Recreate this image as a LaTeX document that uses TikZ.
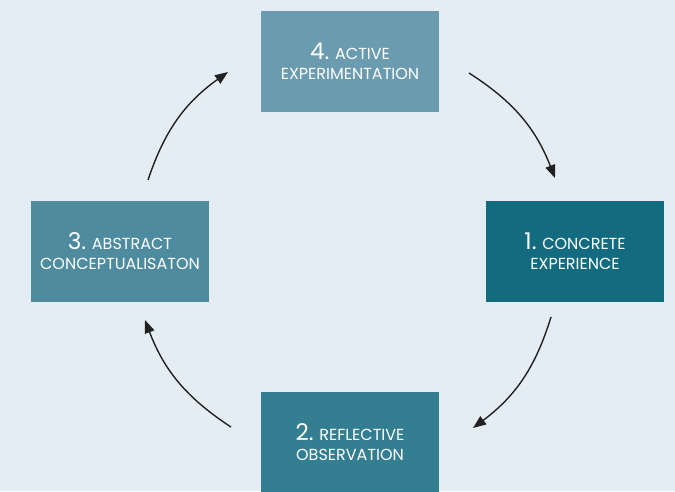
\documentclass[tikz,border=0pt]{standalone}
\usepackage{fontspec}
\setmainfont{Poppins}
\usetikzlibrary{arrows.meta}
\definecolor{bg}{HTML}{E4EDF3}
\definecolor{cA}{HTML}{136B80}
\definecolor{cB}{HTML}{347E92}
\definecolor{cC}{HTML}{4F8B9F}
\definecolor{cD}{HTML}{6A9BAE}
\definecolor{arr}{HTML}{222222}
\newcommand{\bignum}[1]{{\fontsize{23}{20}\selectfont #1}}
\tikzset{
  stagebox/.style={minimum width=178pt, minimum height=101pt, inner sep=0pt,
    text=white, align=center, font=\fontsize{16}{20}\selectfont},
  cyc/.style={draw=arr, line width=1.4pt, -{Triangle[length=13pt,width=10pt]}, bend left=18}
}
\begin{document}
\begin{tikzpicture}[x=1pt,y=-1pt]
\fill[bg] (0,0) rectangle (675,491);
\useasboundingbox (0,0) rectangle (675,491);
\node[stagebox, fill=cD] (ae) at (350,61.5) {\bignum{4.} ACTIVE\\EXPERIMENTATION};
\node[stagebox, fill=cA] (ce) at (575,251.5) {\bignum{1.} CONCRETE\\EXPERIENCE};
\node[stagebox, fill=cB, minimum height=100pt] (ro) at (350,442) {\bignum{2.} REFLECTIVE\\OBSERVATION};
\node[stagebox, fill=cC] (ac) at (120,251.5) {\bignum{3.} ABSTRACT\\CONCEPTUALISATON};
\coordinate (a1s) at (469,73);  \coordinate (a1e) at (555,178);
\coordinate (a2s) at (551,317); \coordinate (a2e) at (473,428);
\coordinate (a3s) at (231,427); \coordinate (a3e) at (145,320);
\coordinate (a4s) at (148,180); \coordinate (a4e) at (228,72);
\draw[cyc] (a1s) to (a1e);
\draw[cyc] (a2s) to (a2e);
\draw[cyc] (a3s) to (a3e);
\draw[cyc] (a4s) to (a4e);
\end{tikzpicture}
\end{document}
